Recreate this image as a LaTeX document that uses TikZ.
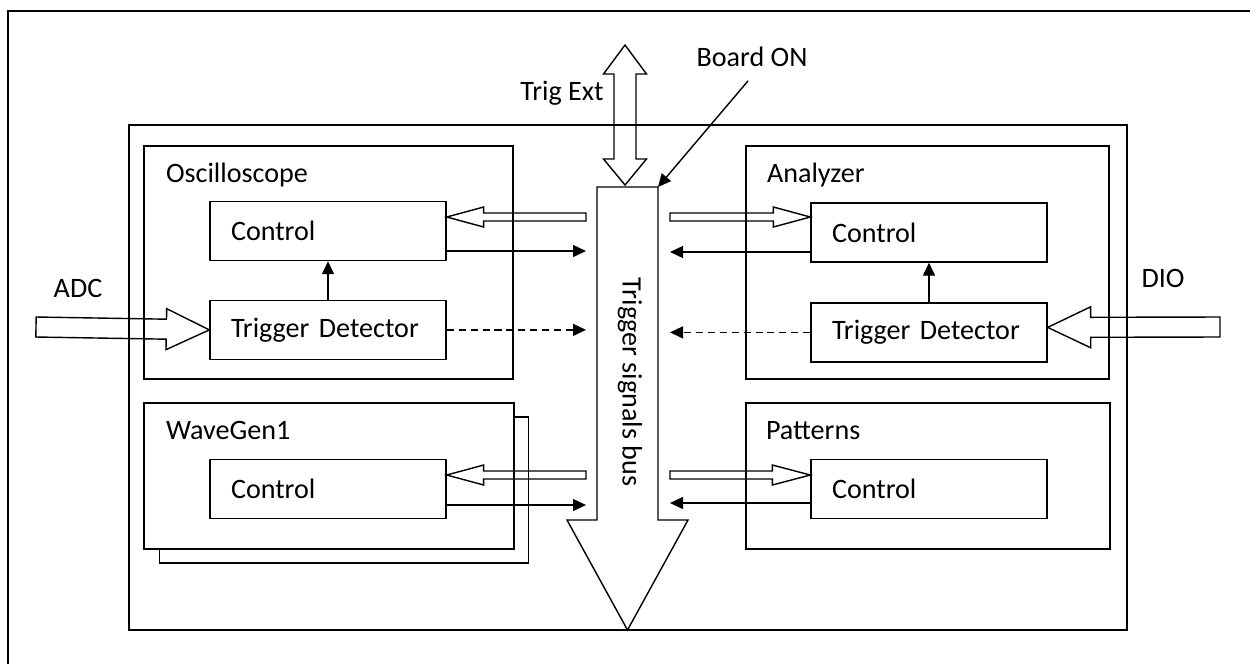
\documentclass[tikz,border=0pt]{standalone}
\usepackage{fontspec}
\setmainfont{Carlito}
\usetikzlibrary{arrows.meta, positioning, calc}

% hollow block arrow: tail, tip, shaft half width, head half width, head length
\newcommand{\fatarrow}[5]{%
  \coordinate (fa-base) at ($(#2)!#5!(#1)$);
  \draw[fat] ($(#1)!#3!90:(#2)$) -- ($(fa-base)!#3!-90:(#1)$)
    -- ($(fa-base)!#4!-90:(#1)$) -- (#2)
    -- ($(fa-base)!#4!90:(#1)$) -- ($(fa-base)!#3!90:(#1)$)
    -- ($(#1)!#3!-90:(#2)$) -- cycle;
}

\begin{document}
\begin{tikzpicture}[
    x=0.02cm, y=-0.02cm, line width=0.8pt,
    font=\fontsize{16}{19}\selectfont,
    panel/.style = {draw, fill=white, minimum height=4.66cm, inner sep=0pt},
    block/.style = {draw, minimum height=1.18cm, text width=3.88cm, inner xsep=0.42cm, align=left},
    title/.style = {anchor=base west, inner sep=0pt},
    tag/.style = {anchor=base, inner sep=0pt},
    arrow/.style = {-{Triangle[length=0.26cm, width=0.24cm]}},
    dashline/.style = {arrow, dash pattern=on 4pt off 2.8pt},
    fat/.style = {line join=miter}
  ]

  \useasboundingbox (0,0) rectangle (1250,664);

  % page frame
  \draw (8,664) -- (8,11) -- (1250,11);

  % board
  \node[draw, minimum width=19.96cm, minimum height=10.1cm, inner sep=0pt] (board) at (628,377.5) {};

  % Oscilloscope
  \node[panel, minimum width=7.38cm] (osc) at (328.5,262.5) {};
  \node[title] at ($(osc.north west)+(22,37)$) {Oscilloscope};
  \node[block] (oscctrl) at (328,231) {Control};
  \node[block, below=0.77cm of oscctrl] (osctd) {Trigger Detector};

  % Analyzer
  \node[panel, minimum width=7.26cm] (ana) at (927.5,262.5) {};
  \node[title] at ($(ana.north west)+(21,37)$) {Analyzer};
  \node[block] (anactrl) at (929,232.5) {Control};
  \node[block, below=0.79cm of anactrl] (anatd) {Trigger Detector};

  % WaveGen, with a second copy behind
  \node[panel, minimum width=7.38cm, minimum height=2.92cm] (wgback) at (344,490) {};
  \node[panel, minimum width=7.4cm, minimum height=2.92cm] (wg) at (329,476) {};
  \node[title] at ($(wg.north west)+(22,37)$) {WaveGen1};
  \node[block] (wgctrl) at (328,489) {Control};

  % Patterns
  \node[panel, minimum width=7.28cm, minimum height=2.92cm] (pat) at (928,476) {};
  \node[title] at ($(pat.north west)+(20,37)$) {Patterns};
  \node[block] (patctrl) at (929,489) {Control};

  % trigger bus
  \coordinate (bustop) at (627.5,187);
  \coordinate (bustip) at (627.5,630);
  \coordinate (busne) at (658,187);
  \coordinate (busw) at (586,0);
  \coordinate (buse) at (670,0);
  \fatarrow{bustop}{bustip}{0.61cm}{1.21cm}{2.2cm}
  \node[rotate=-90] (bustext) at (630,382) {Trigger signals bus};

  % Trig Ext
  \coordinate (extup) at (625,45);
  \coordinate (extdn) at (625,185);
  \draw[fat] (extup) -- ++(21.5,29) -- ++(-10.5,0) -- ++(0,85) -- ++(10.5,0)
    -- (extdn) -- ++(-21.5,-26) -- ++(10.5,0) -- ++(0,-85) -- ++(-10.5,0) -- cycle;
  \node[tag] (trigext) at (562,100) {Trig Ext};

  % Board ON
  \node[tag] (boardon) at (752,66) {Board ON};
  \draw[arrow] ([xshift=-0.08cm, yshift=-0.28cm]boardon.south) -- (busne);

  % ADC and DIO inputs
  \node[tag] (adc) at (78,297) {ADC};
  \coordinate (adcin) at (36,327);
  \fatarrow{adcin}{osctd.west}{0.2cm}{0.41cm}{0.86cm}
  \node[tag] (dio) at (1163,287) {DIO};
  \coordinate (dioin) at (1220,327);
  \coordinate (diotip) at ([yshift=0.1cm]anatd.east);
  \fatarrow{dioin}{diotip}{0.2cm}{0.41cm}{0.86cm}

  % detector to control
  \draw[arrow] (osctd) -- (oscctrl);
  \draw[arrow] (anatd) -- (anactrl);

  % Oscilloscope <-> bus
  \coordinate (oscctrl-in) at ([yshift=0.28cm]oscctrl.east);
  \coordinate (oscctrl-src) at (busw |- oscctrl-in);
  \fatarrow{oscctrl-src}{oscctrl-in}{0.08cm}{0.2cm}{0.74cm}
  \coordinate (oscctrl-out) at ([yshift=-0.4cm]oscctrl.east);
  \draw[arrow] (oscctrl-out) -- (busw |- oscctrl-out);
  \draw[dashline] (osctd.east) -- (busw |- osctd.east);

  % Analyzer <-> bus
  \coordinate (anactrl-in) at ([yshift=0.31cm]anactrl.west);
  \coordinate (anactrl-src) at (buse |- anactrl-in);
  \fatarrow{anactrl-src}{anactrl-in}{0.08cm}{0.2cm}{0.74cm}
  \coordinate (anactrl-out) at ([yshift=-0.39cm]anactrl.west);
  \draw[arrow] (anactrl-out) -- (buse |- anactrl-out);
  \draw[dashline] (anatd.west) -- (buse |- anatd.west);

  % WaveGen <-> bus
  \coordinate (wgctrl-in) at ([yshift=0.28cm]wgctrl.east);
  \coordinate (wgctrl-src) at (busw |- wgctrl-in);
  \fatarrow{wgctrl-src}{wgctrl-in}{0.08cm}{0.2cm}{0.74cm}
  \coordinate (wgctrl-out) at ([yshift=-0.32cm]wgctrl.east);
  \draw[arrow] (wgctrl-out) -- (busw |- wgctrl-out);

  % Patterns <-> bus
  \coordinate (patctrl-in) at ([yshift=0.28cm]patctrl.west);
  \coordinate (patctrl-src) at (buse |- patctrl-in);
  \fatarrow{patctrl-src}{patctrl-in}{0.08cm}{0.2cm}{0.76cm}
  \coordinate (patctrl-out) at ([yshift=-0.28cm]patctrl.west);
  \draw[arrow] (patctrl-out) -- (buse |- patctrl-out);

\end{tikzpicture}
\end{document}
